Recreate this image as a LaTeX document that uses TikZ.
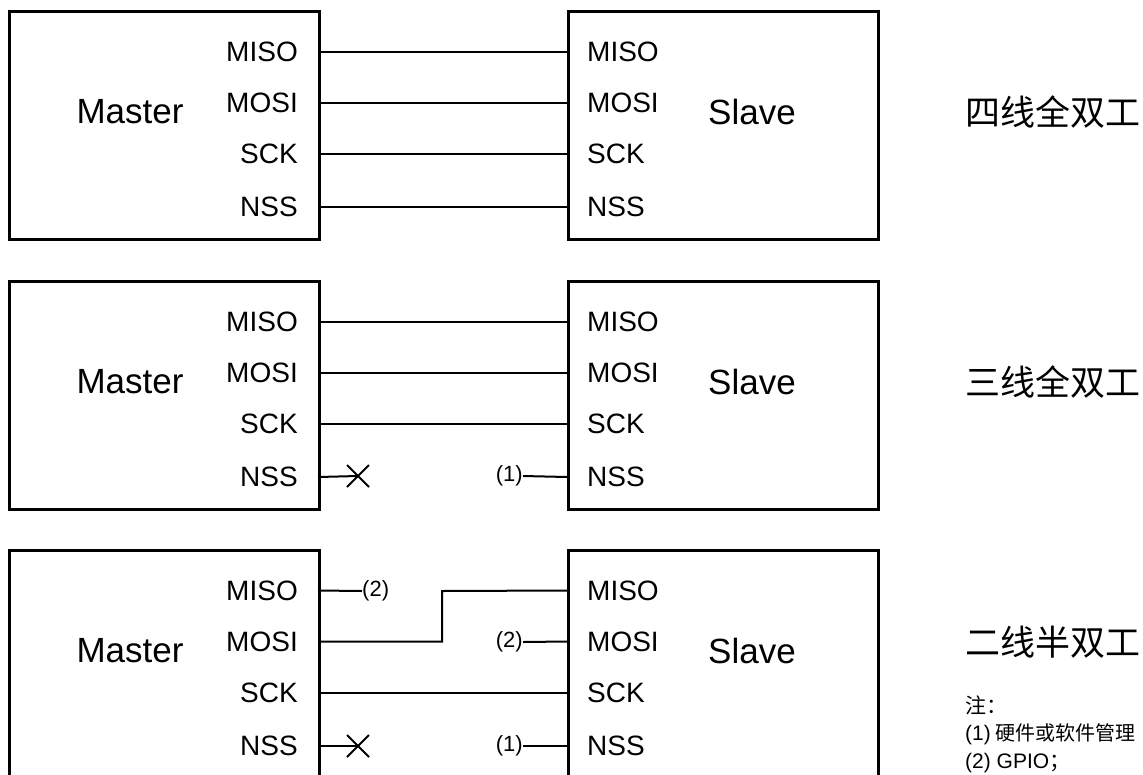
\documentclass[tikz,border=0pt]{standalone}
\usepackage{fontspec}
\setmainfont{Liberation Sans}
\newfontfamily\cjk{Noto Sans CJK SC}
\usetikzlibrary{shapes.misc}
\begin{document}
\begin{tikzpicture}[x=1pt,y=-1pt,
  unitbox/.style={draw, line width=2.5pt, minimum width=310pt, minimum height=228pt, inner sep=0pt, anchor=north west},
  bigtxt/.style={inner sep=0pt, font=\fontsize{35}{40}\selectfont},
  pinlab/.style={inner sep=0pt, font=\fontsize{28}{32}\selectfont},
  smalllab/.style={inner sep=0pt, font=\fontsize{22}{26}\selectfont},
  titletxt/.style={inner sep=0pt, anchor=west, font=\cjk\fontsize{35}{40}\selectfont},
  notetxt/.style={inner sep=0pt, anchor=west, font=\fontsize{21}{25}\selectfont},
  wire/.style={line width=2pt},
  xmark/.style={draw, cross out, line width=2pt, minimum size=20pt, inner sep=0pt}]
\useasboundingbox (0,0) rectangle (1143,774);
\clip (0,0) rectangle (1143,774);
\foreach \k/\t in {1/10,2/280,3/549}{
  \node[unitbox] (m\k) at (8,\t) {};
  \node[unitbox] (s\k) at (567,\t) {};
  \node[bigtxt] (mt\k) at (130,\t+102) {Master};
  \node[bigtxt] (st\k) at (752,\t+102) {Slave};
  \foreach \p/\n/\d in {miso/MISO/41.5, mosi/MOSI/92.5, sck/SCK/144, nss/NSS/197}{
    \coordinate (m\k-\p) at (318,\t+\d);
    \coordinate (s\k-\p) at (567,\t+\d);
    \node[pinlab, anchor=east] (ml\k-\p) at (298,\t+\d) {\n};
    \node[pinlab, anchor=west] (sl\k-\p) at (587,\t+\d) {\n};
  }
}
% titles
\node[titletxt] (t1) at (965,112) {四线全双工};
\node[titletxt] (t2) at (965,382) {三线全双工};
\node[titletxt] (t3) at (965,642) {二线半双工};
% box 1 wires
\foreach \p in {miso,mosi,sck,nss}{ \draw[wire] (m1-\p) -- (s1-\p); }
% box 2 wires
\foreach \p in {miso,mosi,sck}{ \draw[wire] (m2-\p) -- (s2-\p); }
\node[xmark] (x2) at (358,476) {};
\draw[wire] (m2-nss) -- (x2.center);
\node[smalllab, anchor=east] (n2) at (523,476) {(1)};
\draw[wire] (n2.east) -- (s2-nss);
% box 3 wires
\node[smalllab, anchor=west] (g3a) at (362,591) {(2)};
\draw[wire] (m3-miso) -- (g3a.west);
\coordinate (bend) at (442,591);
\draw[wire] (m3-mosi) -| (bend) -- (s3-miso);
\node[smalllab, anchor=east] (g3b) at (523,642) {(2)};
\draw[wire] (g3b.east) -- (s3-mosi);
\draw[wire] (m3-sck) -- (s3-sck);
\node[xmark] (x3) at (358,746) {};
\draw[wire] (m3-nss) -- (x3.center);
\node[smalllab, anchor=east] (n3) at (523,746) {(1)};
\draw[wire] (n3.east) -- (s3-nss);
% notes
\node[notetxt] (nt0) at (965,705) {\cjk\fontsize{21}{25}\selectfont 注：};
\node[notetxt] (nt1) at (965,734) {(1)\hspace{5pt}{\cjk\fontsize{20}{24}\selectfont 硬件或软件管理}};
\node[notetxt] (nt2) at (965,763) {(2) GPIO{\cjk\fontsize{21}{25}\selectfont ；}};
\end{tikzpicture}
\end{document}
